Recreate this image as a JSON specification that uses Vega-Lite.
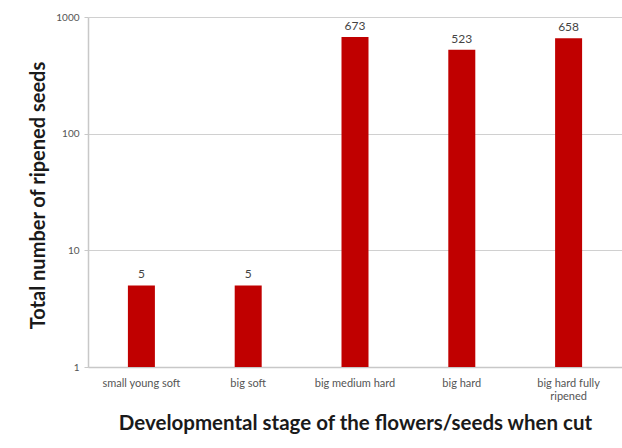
{
  "$schema": "https://vega.github.io/schema/vega-lite/v6.json",
  "width": 534,
  "height": 350,
  "autosize": {"type": "none"},
  "padding": {"left": 88, "top": 17, "right": 0, "bottom": 81},
  "background": "white",
  "config": {
    "view": {"stroke": null},
    "font": "Lato"
  },
  "data": {
    "values": [
      {"stage": "small young soft", "seeds": 5},
      {"stage": "big soft", "seeds": 5},
      {"stage": "big medium hard", "seeds": 673},
      {"stage": "big hard", "seeds": 523},
      {"stage": "big hard fully ripened", "seeds": 658}
    ]
  },
  "encoding": {
    "x": {
      "field": "stage",
      "type": "nominal",
      "sort": null,
      "axis": {
        "title": "Developmental stage of the flowers/seeds when cut",
        "titleFont": "Lato",
        "titleFontSize": 20.5,
        "titleFontWeight": "bold",
        "titleColor": "#1a1a1a",
        "titlePadding": 12,
        "labelAngle": 0,
        "labelFontSize": 11,
        "labelColor": "#555555",
        "labelPadding": 10,
        "labelExpr": "datum.label == 'big hard fully ripened' ? ['big hard fully', 'ripened'] : datum.label",
        "ticks": false,
        "domainColor": "#c8c8c8",
        "domainWidth": 1.5
      }
    },
    "y": {
      "field": "seeds",
      "type": "quantitative",
      "scale": {"type": "log", "domain": [1, 1000], "nice": false},
      "axis": {
        "title": "Total number of ripened seeds",
        "titleFont": "Lato",
        "titleFontSize": 20,
        "titleFontWeight": "bold",
        "titleColor": "#1a1a1a",
        "titleX": -40,
        "titleY": 178,
        "values": [1, 10, 100, 1000],
        "format": "d",
        "labelFontSize": 10,
        "labelColor": "#555555",
        "labelPadding": 5,
        "tickSize": 4,
        "tickColor": "#c8c8c8",
        "domainColor": "#c8c8c8",
        "domainWidth": 1.5,
        "gridColor": "#d0d0d0",
        "gridWidth": 1.2
      }
    }
  },
  "layer": [
    {
      "mark": {"type": "bar", "color": "#c00000", "width": 27},
      "encoding": {"y2": {"datum": 1}}
    },
    {
      "mark": {"type": "text", "dy": -4, "baseline": "bottom", "fontSize": 12, "color": "#444444"},
      "encoding": {"text": {"field": "seeds", "type": "quantitative"}}
    }
  ]
}
